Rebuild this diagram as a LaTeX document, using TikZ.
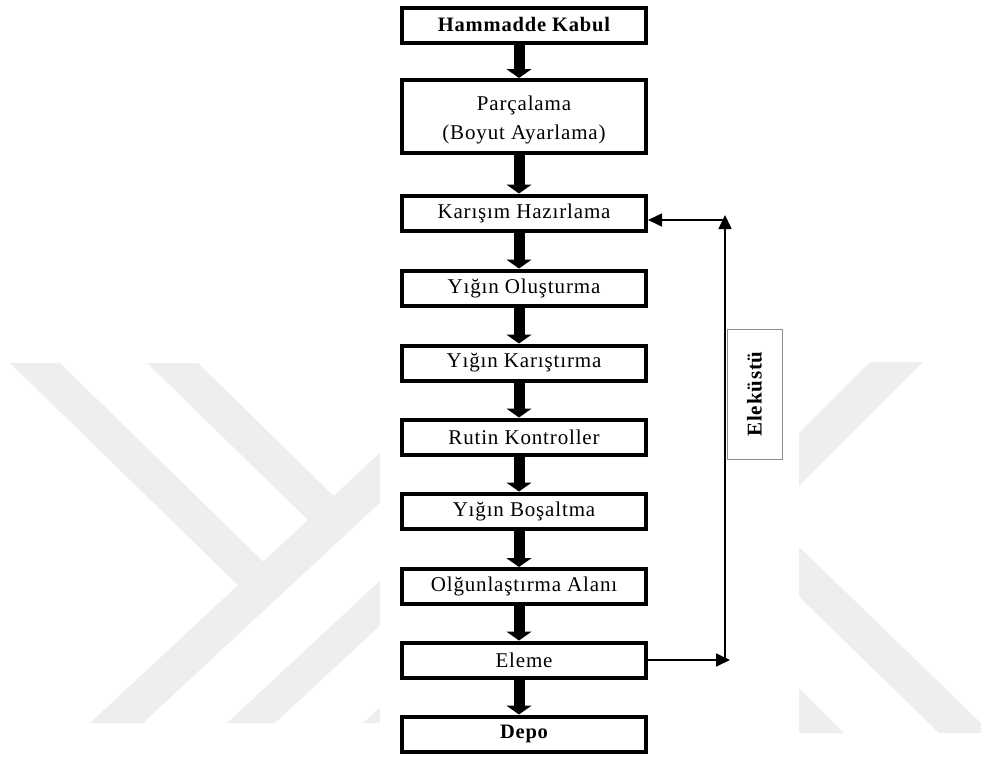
\documentclass[tikz,border=0pt]{standalone}
\usepackage{fontspec}
\setmainfont{Liberation Serif}[LetterSpace=4]
\usetikzlibrary{arrows.meta}
\definecolor{wm}{RGB}{238,238,238}
\definecolor{lblgray}{RGB}{140,140,140}
\begin{document}
\begin{tikzpicture}[x=1pt,y=-1pt,
  stepbox/.style={draw, line width=4pt, minimum width=244pt, minimum height=35pt,
    inner sep=0pt, align=center, font=\fontsize{21}{29}\selectfont},
  boldbox/.style={stepbox, font=\fontsize{20.5}{29}\selectfont\bfseries},
  flow/.style={line width=11pt, -{Triangle[width=25pt,length=9pt]}},
  fbline/.style={line width=1.6pt, -{Triangle[width=13pt,length=14pt]}}]
\useasboundingbox (0,0) rectangle (981,758);
% watermark
\fill[wm] (90,723) -- (143,723) -- (400,484) -- (400,434) -- cycle;
\fill[wm] (10,363) -- (60,363) -- (275,573) -- (250,597) -- cycle;
\fill[wm] (147,363) -- (198,363) -- (345,507) -- (315,527) -- cycle;
\fill[wm] (227,723) -- (275,723) -- (400,607) -- (400,562) -- cycle;
\fill[wm] (363,723) -- (400,723) -- (400,689) -- cycle;
\fill[wm] (870,362) -- (923,362) -- (790,495) -- (790,442) -- cycle;
\fill[wm] (790,538) -- (981,723) -- (981,733) -- (939,733) -- (790,588) -- cycle;
\fill[wm] (790,679) -- (844,733) -- (790,733) -- cycle;
\fill[white] (380,0) rectangle (799,758);
% boxes
\node[boldbox] (n1) at (524,25) {Hammadde Kabul};
\node[stepbox, minimum height=73pt] (n2) at (524,116.5) {};
\node[align=center, inner sep=0pt, font=\fontsize{21}{29}\selectfont] (n2t) at (524,120) {Parçalama\\(Boyut Ayarlama)};
\node[stepbox] (n3) at (524,213) {Karışım Hazırlama};
\node[stepbox] (n4) at (524,288) {Yığın Oluşturma};
\node[stepbox] (n5) at (524,363) {Yığın Karıştırma};
\node[stepbox] (n6) at (524,437) {Rutin Kontroller};
\node[stepbox] (n7) at (524,511) {Yığın Boşaltma};
\node[stepbox] (n8) at (524,586.5) {Olğunlaştırma Alanı};
\node[stepbox] (n9) at (524,660) {Eleme};
\node[boldbox] (n10) at (524,734) {Depo};
\foreach \a/\b in {n1/n2,n2/n3,n3/n4,n4/n5,n5/n6,n6/n7,n7/n8,n8/n9,n9/n10}
  \draw[flow] ([xshift=-5pt]\a.south) -- ([xshift=-5pt]\b.north);
% feedback loop
\coordinate (fb) at (725,660);
\coordinate (ft) at (725,220);
\draw[fbline] (n9.east) -- ([xshift=5pt]fb);
\draw[fbline] (fb) -- ([yshift=5pt]ft);
\draw[fbline] (ft) -- (ft -| n3.east);
\node[draw=lblgray, line width=1pt, rotate=90, minimum width=130pt, minimum height=55pt,
  inner sep=0pt, font=\fontsize{21}{24}\selectfont\bfseries] (elk) at (754.5,394) {Eleküstü};
\end{tikzpicture}
\end{document}
